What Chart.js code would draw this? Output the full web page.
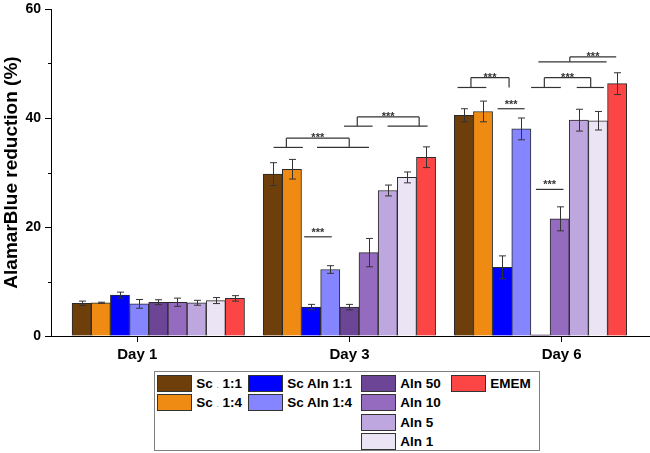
<!DOCTYPE html>
<html>
<head>
<meta charset="utf-8">
<script src="https://cdn.jsdelivr.net/npm/chart.js@4/dist/chart.umd.min.js"></script>
<style>
  html, body { margin: 0; padding: 0; background: #fff; }
  #wrap { position: relative; width: 650px; height: 453px; overflow: hidden; }
  #c { position: absolute; left: 0; top: 0; }
  #legend { position: absolute; left: 154px; top: 371px; width: 386px; height: 80px; box-sizing: border-box;
            border: 1px solid #808080; overflow: hidden; background: #fff; }
  .item { position: absolute; height: 17px; display: flex; align-items: center; white-space: nowrap;
          font: bold 13.5px "Liberation Sans", Arial, sans-serif; color: #000; }
  .sw { box-sizing: border-box; width: 35px; height: 17px; border: 1px solid #333; flex: none; }
  .lab { margin-left: 4.5px; }
  .dot { color: #aaa; font-size: 8px; }
</style>
</head>
<body>
<div id="wrap">
  <canvas id="c" width="650" height="453"></canvas>
  <div id="legend"></div>
</div>
<script>
// ---------- data ----------
const days = ['Day 1', 'Day 3', 'Day 6'];
const seriesNames = ['Sc . 1:1', 'Sc . 1:4', 'Sc Aln 1:1', 'Sc Aln 1:4', 'Aln 50', 'Aln 10', 'Aln 5', 'Aln 1', 'EMEM'];
const seriesColors = ['#6E3F0B', '#EF8A12', '#0000FF', '#8585FF', '#6C4596', '#946BBF', '#BEA7DE', '#EBE4F5', '#FC4545'];

const sc11     = [6.0, 29.7, 40.5];
const sc14     = [6.1, 30.6, 41.2];
const scAln11  = [7.5, 5.3, 12.6];
const scAln14  = [5.9, 12.2, 38.0];
const aln50    = [6.2, 5.3, 0.2];
const aln10    = [6.2, 15.3, 21.5];
const aln5     = [6.1, 26.7, 39.6];
const aln1     = [6.5, 29.1, 39.5];
const emem     = [6.9, 32.8, 46.3];

const sc11Err    = [0.4, 2.1, 1.2];
const sc14Err    = [0.1, 1.8, 1.9];
const scAln11Err = [0.55, 0.5, 2.1];
const scAln14Err = [0.8, 0.7, 2.0];
const aln50Err   = [0.45, 0.5, 0];
const aln10Err   = [0.75, 2.6, 2.2];
const aln5Err    = [0.45, 1.0, 2.0];
const aln1Err    = [0.55, 1.0, 1.7];
const ememErr    = [0.5, 1.9, 2.0];

const yTicks = [0, 20, 40, 60];
const yMinorTicks = [10, 30, 50];

// significance marks: bar-slot units within a day group (0..9), values on the y scale
const sigBrackets = [
  { day: 1, top: 36.3, foot: 34.6, span: [1.21, 4.49], legs: [1.21, 4.49], bases: [[0.54, 2.07], [2.81, 5.52]] },
  { day: 1, top: 40.2, foot: 38.5, span: [4.91, 8.14], legs: [4.91, 8.14], bases: [[4.22, 5.71], [6.49, 8.58]] },
  { day: 2, top: 47.4, foot: 45.6, span: [0.87, 2.86], legs: [0.87, 2.86], bases: [[0.17, 1.67]] },
  { day: 2, top: 47.4, foot: 45.6, span: [4.70, 7.12], legs: [4.70, 7.12], bases: [[4.01, 5.56], [6.39, 7.81]] },
  { day: 2, top: 51.2, foot: 50.3, span: [6.03, 8.45], legs: [6.03], bases: [[4.39, 7.95]] }
];
const sigLines = [
  { day: 1, y: 18.2, span: [2.14, 3.58] },
  { day: 2, y: 41.7, span: [2.26, 3.67] },
  { day: 2, y: 26.9, span: [4.26, 5.70] }
];
const sigLabel = '***';

// ---------- build ----------
const seriesValues = [sc11, sc14, scAln11, scAln14, aln50, aln10, aln5, aln1, emem];
const seriesErrors = [sc11Err, sc14Err, scAln11Err, scAln14Err, aln50Err, aln10Err, aln5Err, aln1Err, ememErr];
const FONT = '"Liberation Sans", Arial, sans-serif';

const datasets = seriesNames.map((name, k) => ({
  label: name,
  data: seriesValues[k].map((v, i) => ({ x: i + 1, y: v })),
  errors: seriesErrors[k],
  backgroundColor: seriesColors[k],
  borderColor: '#2a2a2a',
  borderWidth: 1,
  barThickness: 19.16
}));

const overlay = {
  id: 'overlay',
  afterDatasetsDraw(chart) {
    const ctx = chart.ctx;
    const ys = chart.scales.y;
    const seg = (x1, y1, x2, y2) => { ctx.beginPath(); ctx.moveTo(x1, y1); ctx.lineTo(x2, y2); ctx.stroke(); };
    ctx.save();
    // error bars
    ctx.strokeStyle = '#333';
    ctx.lineWidth = 1;
    chart.data.datasets.forEach((ds, k) => {
      const meta = chart.getDatasetMeta(k);
      meta.data.forEach((bar, i) => {
        const e = ds.errors[i];
        if (!e) return;
        const v = ds.data[i].y;
        const x = Math.round(bar.x) + 0.5;
        const yt = ys.getPixelForValue(v + e), yb = ys.getPixelForValue(v - e);
        seg(x, yt, x, yb);
        seg(x - 3.5, yt, x + 3.5, yt);
        seg(x - 3.5, yb, x + 3.5, yb);
      });
    });
    // minor y ticks
    ctx.strokeStyle = '#000';
    const left = chart.chartArea.left;
    yMinorTicks.forEach(v => {
      const py = Math.round(ys.getPixelForValue(v)) + 0.5;
      seg(left - 3, py, left, py);
    });
    // significance marks
    const slotX = (day, s) => {
      const b = chart.getDatasetMeta(0).data[day];
      return b.x - b.width / 2 + s * b.width;
    };
    ctx.strokeStyle = '#333';
    ctx.lineWidth = 1.2;
    ctx.fillStyle = '#333';
    ctx.font = 'bold 11px ' + FONT;
    ctx.textAlign = 'center';
    ctx.textBaseline = 'alphabetic';
    sigBrackets.forEach(b => {
      const yt = ys.getPixelForValue(b.top), yf = ys.getPixelForValue(b.foot);
      seg(slotX(b.day, b.span[0]), yt, slotX(b.day, b.span[1]), yt);
      b.legs.forEach(s => seg(slotX(b.day, s), yt, slotX(b.day, s), yf));
      b.bases.forEach(r => seg(slotX(b.day, r[0]), yf, slotX(b.day, r[1]), yf));
      ctx.fillText(sigLabel, (slotX(b.day, b.span[0]) + slotX(b.day, b.span[1])) / 2, yt + 3);
    });
    sigLines.forEach(l => {
      const py = ys.getPixelForValue(l.y);
      const x1 = slotX(l.day, l.span[0]), x2 = slotX(l.day, l.span[1]);
      seg(x1, py, x2, py);
      ctx.fillText(sigLabel, (x1 + x2) / 2, py - 1.2);
    });
    ctx.restore();
  }
};

new Chart(document.getElementById('c'), {
  type: 'bar',
  data: { datasets },
  options: {
    responsive: false,
    animation: false,
    devicePixelRatio: 1,
    layout: { padding: { top: 9, left: 0, right: 0, bottom: 0 } },
    plugins: { legend: { display: false }, tooltip: { enabled: false } },
    scales: {
      x: {
        type: 'linear', display: false, min: 0.4385, max: 3.573, offset: false,
        grid: { offset: false }
      },
      xt: {
        type: 'linear', position: 'bottom', min: 0.5933, max: 3.4161, offset: false,
        afterBuildTicks: s => { s.ticks = days.map((d, i) => ({ value: i + 1 })); },
        ticks: { callback: (v, i) => days[i], autoSkip: false, maxRotation: 0,
                 font: { family: FONT, weight: 'bold', size: 15 }, color: '#000', padding: 4 },
        grid: { offset: false, drawOnChartArea: false, drawTicks: true, tickLength: 6, color: '#000' },
        border: { display: true, color: '#000', width: 1 },
        afterFit: s => { s.height = 117; s.paddingLeft = 0; s.paddingRight = 0; }
      },
      y: {
        min: 0, max: 60,
        afterBuildTicks: s => { s.ticks = yTicks.map(v => ({ value: v })); },
        ticks: { font: { family: FONT, weight: 'bold', size: 14 }, color: '#000', padding: 4 },
        grid: { drawOnChartArea: false, drawTicks: true, tickLength: 6, color: '#000' },
        border: { display: true, color: '#000', width: 1 },
        title: { display: true, text: 'AlamarBlue reduction (%)', color: '#000',
                 font: { family: FONT, weight: 'bold', size: 19 }, padding: 0 },
        afterFit: s => { s.width = 51; s.paddingTop = 0; s.paddingBottom = 0; }
      }
    }
  },
  plugins: [overlay]
});

// ---------- legend (column-major, as in the figure) ----------
const legendColumns = [[0, 1], [2, 3], [4, 5, 6, 7], [8]];
const legendColX = [1.7, 92.7, 205.7, 295.7];
const legendRowY = 2.5, legendRowStep = 19.6;
const legendEl = document.getElementById('legend');
legendColumns.forEach((col, c) => {
  col.forEach((k, r) => {
    const item = document.createElement('div');
    item.className = 'item';
    item.style.left = legendColX[c] + 'px';
    item.style.top = (legendRowY + r * legendRowStep) + 'px';
    const sw = document.createElement('div');
    sw.className = 'sw';
    sw.style.background = seriesColors[k];
    const lab = document.createElement('span');
    lab.className = 'lab';
    const parts = seriesNames[k].split(' . ');
    if (parts.length === 2) {
      lab.append(parts[0] + ' ');
      const d = document.createElement('span'); d.className = 'dot'; d.textContent = '.';
      lab.append(d, ' ' + parts[1]);
    } else {
      lab.textContent = seriesNames[k];
    }
    item.append(sw, lab);
    legendEl.appendChild(item);
  });
});
</script>
</body>
</html>
